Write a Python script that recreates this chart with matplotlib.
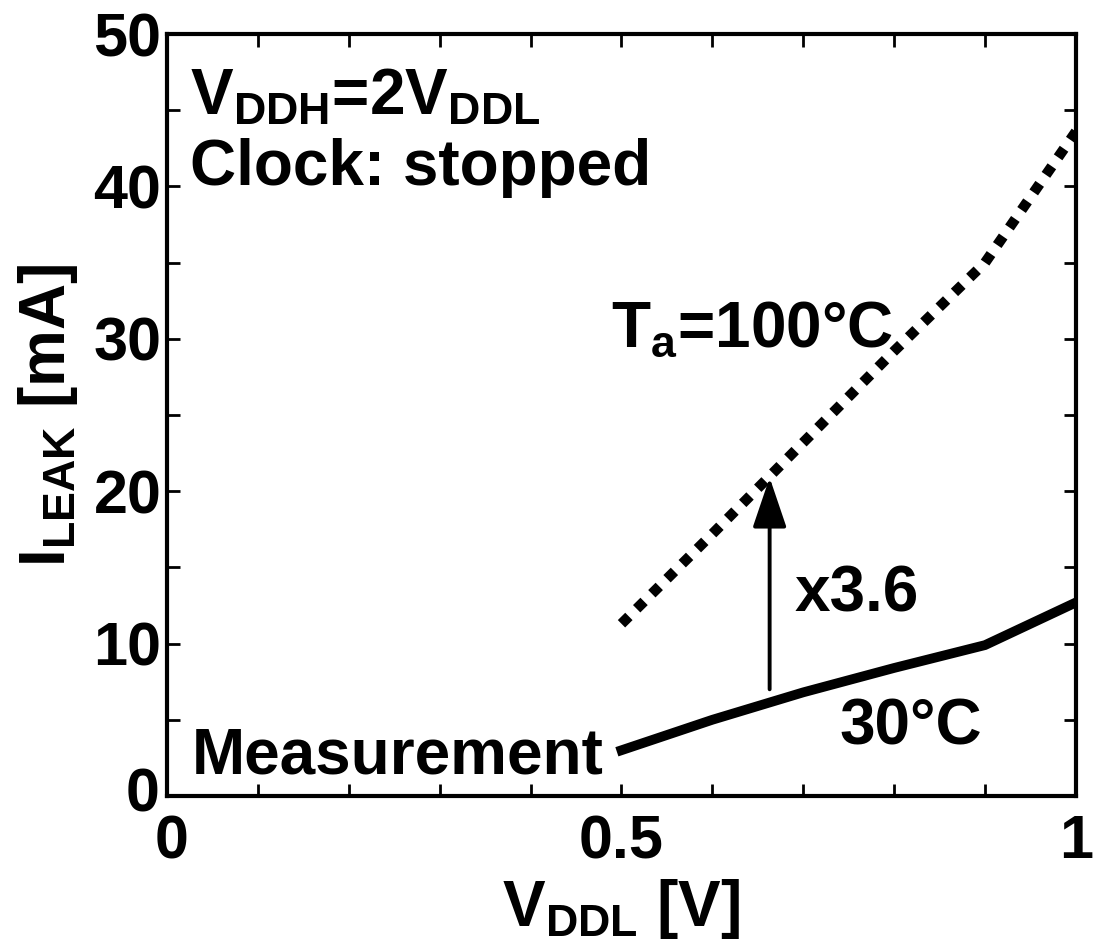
import matplotlib
matplotlib.use('Agg')
import matplotlib.pyplot as plt
import matplotlib.transforms as mtransforms
import numpy as np

# leakage current vs V_DDL
vddl = [0.5, 0.6, 0.7, 0.8, 0.9, 1.0]
leak_100c = [11.3, 17.2, 23.2, 29.2, 35.0, 43.6]
leak_30c = [3.0, 5.0, 6.8, 8.4, 9.9, 12.7]

x_ticks = [0, 0.1, 0.2, 0.3, 0.4, 0.5, 0.6, 0.7, 0.8, 0.9, 1.0]
x_ticklabels = ['0', '', '', '', '', '0.5', '', '', '', '', '1']
y_ticks = [0, 5, 10, 15, 20, 25, 30, 35, 40, 45, 50]
y_ticklabels = ['0', '', '10', '', '20', '', '30', '', '40', '', '50']

plt.rcParams['font.family'] = ['Liberation Sans', 'DejaVu Sans']
plt.rcParams['font.weight'] = 'bold'
plt.rcParams['mathtext.fontset'] = 'custom'
plt.rcParams['mathtext.rm'] = 'Liberation Sans:bold'
plt.rcParams['mathtext.bf'] = 'Liberation Sans:bold'
plt.rcParams['mathtext.it'] = 'Liberation Sans:bold'
plt.rcParams['mathtext.default'] = 'rm'

fig = plt.figure(figsize=(10.99, 9.47), dpi=100)
ax = fig.add_axes([0.152, 0.1595, 0.827, 0.8045])

ax.plot(vddl, leak_100c, color='black', linewidth=7.5, linestyle=(0, (1, 1.05)))
ax.plot(vddl, leak_30c, color='black', linewidth=7, solid_joinstyle='miter')

# x3.6 arrow
ax.annotate('', xy=(0.663, 20.9), xytext=(0.663, 7.0),
            arrowprops=dict(arrowstyle='-|>,head_length=3.1,head_width=1.05',
                            color='black', lw=2.8, shrinkA=0, shrinkB=0,
                            mutation_scale=10))

fs = 46
ax.text(0.025, 44.7, r'V$_\mathrm{DDH}$=2V$_\mathrm{DDL}$', fontsize=fs, fontweight='bold', va='baseline')
ax.text(0.025, 40.1, 'Clock: stopped', fontsize=fs, fontweight='bold', va='baseline')
ax.text(0.488, 29.5, r'T$_\mathrm{a}$=100°C', fontsize=fs, fontweight='bold', va='baseline')
ax.text(0.69, 12.1, 'x3.6', fontsize=fs, fontweight='bold', va='baseline')
ax.text(0.74, 3.35, '30°C', fontsize=fs, fontweight='bold', va='baseline')
ax.text(0.0275, 1.5, 'Measurement', fontsize=fs, fontweight='bold', va='baseline')

ax.set_xlim(0, 1)
ax.set_ylim(0, 50)
ax.set_xticks(x_ticks)
ax.set_xticklabels(x_ticklabels)
ax.set_yticks(y_ticks)
ax.set_yticklabels(y_ticklabels)
ax.tick_params(direction='in', length=9, width=2, top=True, right=True,
               labelsize=44)
ax.tick_params(axis='x', pad=13)
ax.tick_params(axis='y', pad=4)
for lab in ax.get_xticklabels() + ax.get_yticklabels():
    lab.set_fontweight('bold')
for lab in ax.get_yticklabels():
    lab.set_verticalalignment('center_baseline')
for sp in ax.spines.values():
    sp.set_linewidth(3)

# the two "0" labels sit a little apart in the original
xz = ax.xaxis.get_major_ticks()[0].label1
xz.set_transform(xz.get_transform() + mtransforms.ScaledTranslation(5/100, 0, fig.dpi_scale_trans))
yz = ax.yaxis.get_major_ticks()[0].label1
yz.set_transform(yz.get_transform() + mtransforms.ScaledTranslation(-2/100, 6/100, fig.dpi_scale_trans))

ax.set_xlabel(r'V$_\mathrm{DDL}$ [V]', fontsize=fs, fontweight='bold', labelpad=4)
ax.set_ylabel(r'I$_\mathrm{LEAK}$ [mA]', fontsize=fs, fontweight='bold', labelpad=10)

plt.savefig('out.png', dpi=100)
